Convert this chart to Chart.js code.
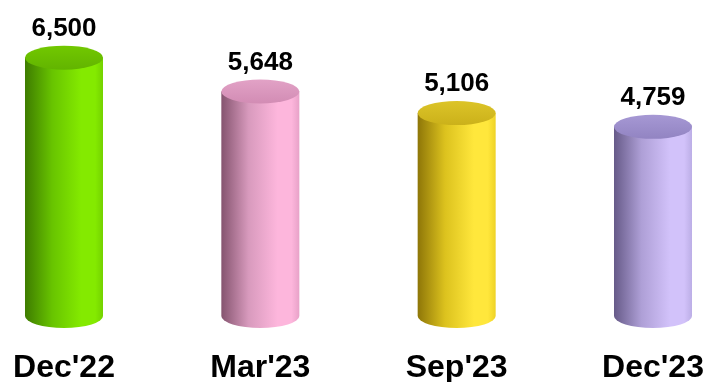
<!DOCTYPE html>
<html>
<head>
<meta charset="utf-8">
<script src="https://cdn.jsdelivr.net/npm/chart.js@4"></script>
<style>
  html, body { margin: 0; padding: 0; background: #fff; }
  #wrap { width: 709px; height: 382px; }
</style>
</head>
<body>
<div id="wrap"><canvas id="cylChart"></canvas></div>
<script>
const periods = ["Dec'22", "Mar'23", "Sep'23", "Dec'23"];
const counts = [6500, 5648, 5106, 4759];

// shading per cylinder: [left edge, mid, bright, right edge, cap dark, cap light]
const shades = [
  ['#3e7c00', '#68c400', '#84ea00', '#74d200', '#62b400', '#72c800'],
  ['#85546f', '#d89abd', '#fdb6dc', '#e8a2c8', '#d28cb4', '#e2a2c6'],
  ['#8e7608', '#dcc21e', '#ffe73c', '#eed226', '#cbb11a', '#dcc428'],
  ['#665a88', '#ae9fd6', '#d2c2fa', '#bcaee6', '#9284c2', '#a698d4']
];

const RY = 12; // half height of the ellipse caps

const cylinders = {
  id: 'cylinders',
  afterDatasetsDraw(chart) {
    const ctx = chart.ctx;
    const meta = chart.getDatasetMeta(0);
    meta.data.forEach((bar, i) => {
      const p = bar.getProps(['x', 'y', 'base', 'width'], true);
      const l = p.x - p.width / 2, r = p.x + p.width / 2, rx = p.width / 2;
      const c = shades[i];

      // side of the cylinder
      const side = ctx.createLinearGradient(l, 0, r, 0);
      side.addColorStop(0, c[0]);
      side.addColorStop(0.35, c[1]);
      side.addColorStop(0.72, c[2]);
      side.addColorStop(0.9, c[2]);
      side.addColorStop(1, c[3]);
      ctx.save();
      ctx.beginPath();
      ctx.moveTo(l, p.y);
      ctx.lineTo(l, p.base);
      ctx.ellipse(p.x, p.base, rx, RY, 0, Math.PI, 0, true);
      ctx.lineTo(r, p.y);
      ctx.closePath();
      ctx.fillStyle = side;
      ctx.fill();

      // top cap
      const top = ctx.createLinearGradient(0, p.y - RY, 0, p.y + RY);
      top.addColorStop(0, c[5]);
      top.addColorStop(1, c[4]);
      ctx.beginPath();
      ctx.ellipse(p.x, p.y, rx, RY, 0, 0, Math.PI * 2);
      ctx.fillStyle = top;
      ctx.fill();

      // value above the cap
      ctx.fillStyle = '#000';
      ctx.font = 'bold 26px "Liberation Sans", Arial, sans-serif';
      ctx.textAlign = 'center';
      ctx.textBaseline = 'alphabetic';
      ctx.fillText(counts[i].toLocaleString('en-US'), p.x, p.y - RY - 10);
      ctx.restore();
    });
  }
};

new Chart(document.getElementById('cylChart'), {
  type: 'bar',
  data: {
    labels: periods,
    datasets: [{
      data: counts,
      backgroundColor: 'rgba(0,0,0,0)',
      barThickness: 78,
      clip: false
    }]
  },
  options: {
    responsive: true,
    maintainAspectRatio: false,
    animation: false,
    layout: { padding: { left: 64, right: 56, top: 0, bottom: 0 } },
    plugins: {
      legend: { display: false },
      tooltip: { enabled: false }
    },
    scales: {
      x: {
        offset: false,
        grid: { display: false },
        border: { display: false },
        afterFit(scale) {
          scale.height = 66;
          // labels sit inside the layout padding, no extra room needed
          scale.paddingLeft = 0;
          scale.paddingRight = 0;
        },
        ticks: {
          color: '#000',
          padding: 25,
          maxRotation: 0,
          font: { family: '"Liberation Sans", Arial, sans-serif', size: 32, weight: 'bold' }
        }
      },
      y: {
        display: false,
        min: 0,
        max: 7950
      }
    }
  },
  plugins: [cylinders]
});
</script>
</body>
</html>
